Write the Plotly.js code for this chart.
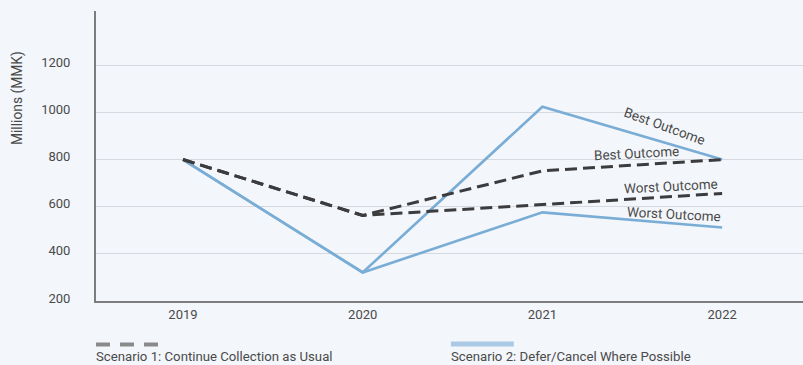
<!DOCTYPE html>
<html>
<head>
<meta charset="utf-8">
<script src="https://cdn.plot.ly/plotly-3.0.1.min.js"></script>
<style>
html,body{margin:0;padding:0;background:#f3f6fb;}
#chart{width:803px;height:365px;}
</style>
</head>
<body>
<div id="chart"></div>
<script>
// ---- data ----
var years = ['2019', '2020', '2021', '2022'];
var s1Best = [800, 563, 752, 800];
var s1Worst = [800, 563, 609, 656];
var s2Best = [800, 321, 1024, 800];
var s2Worst = [800, 321, 576, 512];
var yTicks = [200, 400, 600, 800, 1000, 1200];
var seriesNames = ['Scenario 1: Continue Collection as Usual', 'Scenario 2: Defer/Cancel Where Possible'];
var outcomeLabels = ['Best Outcome', 'Worst Outcome'];
var yTitle = 'Millions (MMK)';

var dark = '#3c3c3e';
var blue = '#7aadd5';
var txt = '#4a4a4a';
var fontFam = 'Roboto, "Noto Sans", sans-serif';

var traces = [
  {x: years, y: s2Best, mode: 'lines', line: {color: blue, width: 2.6}, hoverinfo: 'skip', showlegend: false},
  {x: years, y: s2Worst, mode: 'lines', line: {color: blue, width: 2.6}, hoverinfo: 'skip', showlegend: false},
  {x: years, y: s1Best, mode: 'lines', line: {color: dark, width: 3, dash: '12px,6px'}, hoverinfo: 'skip', showlegend: false},
  {x: years, y: s1Worst, mode: 'lines', line: {color: dark, width: 3, dash: '12px,6px'}, hoverinfo: 'skip', showlegend: false}
];

function ann(text, x, y, angle) {
  return {text: text, x: x, y: y, xref: 'x', yref: 'y', showarrow: false,
    textangle: angle, font: {family: fontFam, size: 13.5, color: txt}, xanchor: 'center', yanchor: 'middle'};
}

var layout = {
  width: 803, height: 365,
  margin: {l: 96, r: 0, t: 11, b: 64},
  paper_bgcolor: '#f3f6fb', plot_bgcolor: '#f3f6fb',
  font: {family: fontFam, color: txt},
  showlegend: false,
  xaxis: {
    type: 'category', range: [-0.484, 3.45],
    showgrid: false, zeroline: false,
    showline: true, linecolor: '#7d7d7d', linewidth: 2,
    ticks: '', tickfont: {size: 13, color: txt}
  },
  yaxis: {
    range: [200, 1430], tickvals: yTicks, ticktext: yTicks.map(String),
    showgrid: true, gridcolor: '#d6dae0', gridwidth: 1,
    zeroline: false, showline: true, linecolor: '#7d7d7d', linewidth: 2,
    ticks: '', ticklabelstandoff: 21, ticklabelshift: -3,
    tickfont: {size: 13, color: txt}
  },
  annotations: [
    ann(outcomeLabels[0], 2.682, 942, 20),
    ann(outcomeLabels[0], 2.526, 828, -3),
    ann(outcomeLabels[1], 2.716, 688, -3),
    ann(outcomeLabels[1], 2.732, 569, 3),
    {text: yTitle, xref: 'paper', yref: 'paper', x: -0.1117, y: 0.7, showarrow: false,
      textangle: -90, font: {family: fontFam, size: 13.8, color: txt}, xanchor: 'center', yanchor: 'middle'},
    {text: seriesNames[0], xref: 'paper', yref: 'paper', x: -0.003, y: -0.191, showarrow: false,
      font: {family: fontFam, size: 13.2, color: txt}, xanchor: 'left', yanchor: 'middle'},
    {text: seriesNames[1], xref: 'paper', yref: 'paper', x: 0.499, y: -0.191, showarrow: false,
      font: {family: fontFam, size: 13.2, color: txt}, xanchor: 'left', yanchor: 'middle'}
  ],
  shapes: [
    {type: 'line', xref: 'paper', yref: 'paper', x0: 0, x1: 0.0891, y0: -0.15, y1: -0.15,
      line: {color: '#8a8a8a', width: 4, dash: '14px,10px'}},
    {type: 'line', xref: 'paper', yref: 'paper', x0: 0.502, x1: 0.591, y0: -0.148, y1: -0.148,
      line: {color: '#aac9e4', width: 5}}
  ]
};

Plotly.newPlot('chart', traces, layout, {displayModeBar: false, staticPlot: true});
</script>
</body>
</html>
